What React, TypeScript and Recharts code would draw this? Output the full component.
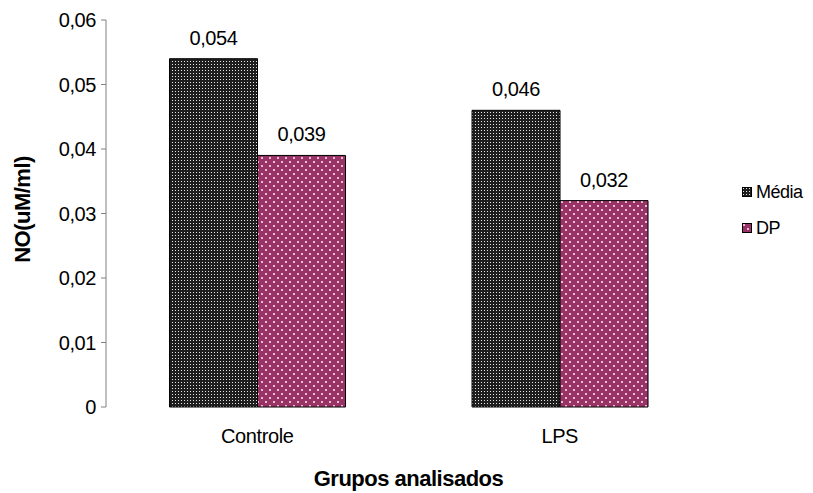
import React from "react";
import { BarChart, Bar, XAxis, YAxis, LabelList, Label } from "recharts";

const groups = ["Controle", "LPS"];
const mediaValues = [0.054, 0.046];
const dpValues = [0.039, 0.032];
const yTicks = [0, 0.01, 0.02, 0.03, 0.04, 0.05, 0.06];
const edgeTicks = [0, 1, 2];

const data = groups.map((g, i) => ({ grupo: g, idx: i + 0.5, media: mediaValues[i], dp: dpValues[i] }));

const FONT = "'Liberation Sans', Arial, sans-serif";
const AXIS = "#808080";

const comma = (v: number) => (v === 0 ? "0" : String(v).replace(".", ","));
const tickFmt = (v: number) => (v === 0 ? "0" : v.toFixed(2).replace(".", ","));

function Patterns({ prefix }: { prefix: string }) {
  return (
    <defs>
      <pattern id={`${prefix}-media`} width={3} height={3} patternUnits="userSpaceOnUse">
        <rect width={3} height={3} fill="#1e1e1e" />
        <rect x={1} y={1} width={1} height={1} fill="#e6e6e6" />
      </pattern>
      <pattern id={`${prefix}-dp`} width={8} height={8} patternUnits="userSpaceOnUse">
        <rect width={8} height={8} fill="#993366" />
        <rect x={1} y={1} width={2} height={2} fill="#e9bcd6" />
        <rect x={5} y={5} width={2} height={2} fill="#e9bcd6" />
      </pattern>
    </defs>
  );
}

const legendItems = [
  { name: "Média", key: "media" },
  { name: "DP", key: "dp" },
];

function ChartLegend() {
  return (
    <div style={{ position: "absolute", left: 742, top: 181, fontFamily: FONT, fontSize: 18, letterSpacing: -0.5 }}>
      {legendItems.map((it) => (
        <div key={it.key} style={{ display: "flex", alignItems: "center", height: 22, marginBottom: 14 }}>
          <svg width={10} height={10} style={{ marginRight: 4 }}>
            <Patterns prefix={`lg-${it.key}`} />
            <rect x={0.5} y={0.5} width={9} height={9} fill={`url(#lg-${it.key}-${it.key})`} stroke="#000" />
          </svg>
          <span>{it.name}</span>
        </div>
      ))}
    </div>
  );
}

export default function App() {
  const tickStyle = { fill: "#000", fontSize: 20, fontFamily: FONT, letterSpacing: -0.4 };
  const titleStyle = { fontSize: 22, fontWeight: "bold", fontFamily: FONT, fill: "#000", letterSpacing: -0.5 };
  return (
    <div style={{ position: "fixed", left: 0, top: 0, width: 813, height: 493, background: "#fff" }}>
      <BarChart
        width={813}
        height={493}
        data={data}
        margin={{ top: 20, right: 102, left: 0, bottom: 0 }}
        barCategoryGap="21%"
        barGap={0}
      >
        <Patterns prefix="bar" />
        {/* boundary ticks of the category axis */}
        <XAxis
          xAxisId="edge"
          type="number"
          dataKey="idx"
          domain={[0, 2]}
          ticks={edgeTicks}
          height={0}
          stroke={AXIS}
          tickSize={5}
          tickFormatter={() => ""}
        />
        <XAxis
          dataKey="grupo"
          height={86}
          axisLine={false}
          tickLine={false}
          tickSize={0}
          tickMargin={22}
          tick={tickStyle}
        >
          <Label value="Grupos analisados" position="insideBottom" offset={7} style={titleStyle} />
        </XAxis>
        <YAxis
          width={106}
          domain={[0, 0.06]}
          ticks={yTicks}
          tickFormatter={tickFmt}
          stroke={AXIS}
          tickSize={5}
          tickMargin={5}
          tick={tickStyle}
          label={({ viewBox }: any) => {
            const cx = viewBox.x + 22;
            const cy = viewBox.y + viewBox.height / 2 - 4;
            return (
              <text
                x={cx}
                y={cy}
                transform={`rotate(-90 ${cx} ${cy})`}
                textAnchor="middle"
                dominantBaseline="central"
                style={titleStyle}
              >
                NO(uM/ml)
              </text>
            );
          }}
        />
        <Bar dataKey="media" name="Média" fill="url(#bar-media)" stroke="#000" strokeWidth={1} isAnimationActive={false}>
          <LabelList dataKey="media" position="top" offset={14} formatter={comma} style={tickStyle} />
        </Bar>
        <Bar dataKey="dp" name="DP" fill="url(#bar-dp)" stroke="#000" strokeWidth={1} isAnimationActive={false}>
          <LabelList dataKey="dp" position="top" offset={14} formatter={comma} style={tickStyle} />
        </Bar>
      </BarChart>
      <ChartLegend />
    </div>
  );
}
